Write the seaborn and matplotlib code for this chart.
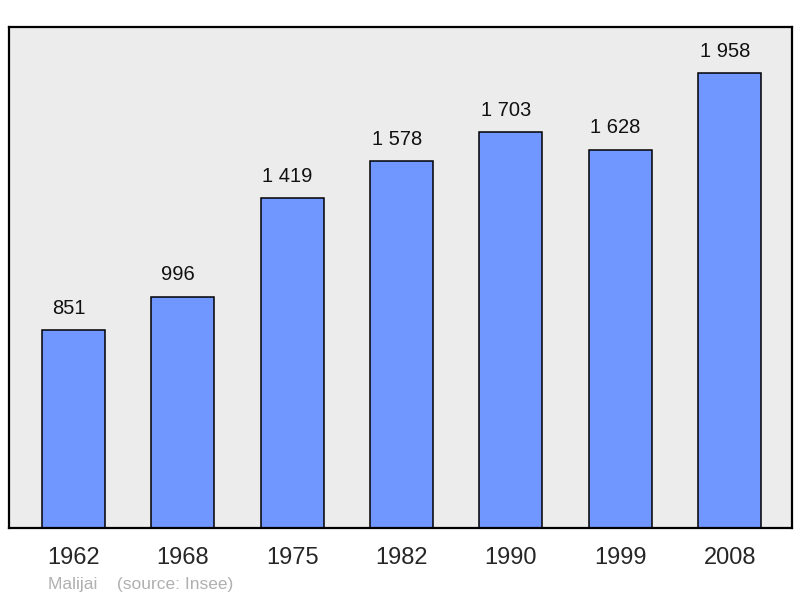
import matplotlib
matplotlib.use("Agg")
import matplotlib.pyplot as plt
import seaborn as sns
import pandas as pd


###--- Population data (Malijai, source: Insee)
years = ["1962", "1968", "1975", "1982", "1990", "1999", "2008"]
population = [851, 996, 1419, 1578, 1703, 1628, 1958]

sns.set_style("white")
plt.rcParams['font.family'] = ['Liberation Sans', 'DejaVu Sans']

df = pd.DataFrame({"year": years, "pop": population})

fig = plt.figure(figsize=(8, 5.98), dpi=100)
ax = fig.add_axes([0.01125, 0.117, 0.97875, 0.8378])
ax.set_facecolor("#ececec")

sns.barplot(data=df, x="year", y="pop", color="#7097ff", saturation=1,
            width=0.576, edgecolor="black", linewidth=1.1, ax=ax)

###--- Value labels with space as thousands separator
for i, v in enumerate(population):
    label = f"{v:,}".replace(",", " ")
    ax.annotate(label, (i, v), xytext=(-3.5, 9), textcoords="offset points",
                ha="center", va="bottom", fontsize=14.5, color="#111111")

ax.set_xlim(-0.59, 6.57)
ax.set_ylim(0, 2156)
ax.set_yticks([])
ax.set_xlabel("")
ax.set_ylabel("")
ax.tick_params(axis="x", length=0, pad=14, labelsize=17)
for s in ax.spines.values():
    s.set_visible(True)
    s.set_color("black")
    s.set_linewidth(1.6)

fig.text(0.06, 0.01, "Malijai    (source: Insee)", fontsize=12.5,
         color="#b0b0b0", ha="left", va="bottom")

fig.savefig("out.png", dpi=100)
